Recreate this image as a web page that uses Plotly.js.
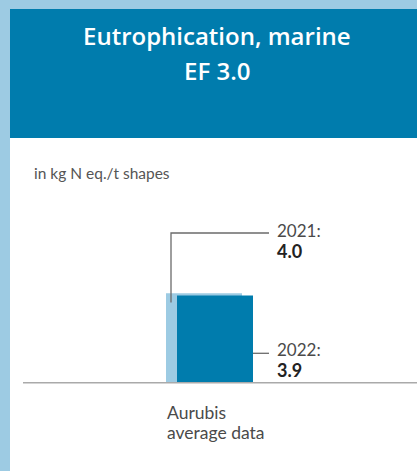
<!DOCTYPE html>
<html><head><meta charset="utf-8">
<script src="https://cdn.plot.ly/plotly-3.0.1.min.js"></script>
<style>html,body{margin:0;padding:0;background:#fff;}#chart{width:417px;height:471px;}
svg text{font-feature-settings:"liga" 0, "clig" 0; font-variant-ligatures:none;}</style>
</head><body><div id="chart"></div>
<script>
// Data
const category = "Aurubis<br>average data";
const years = ["2021", "2022"];
const values = [4.0, 3.9];
const titleText = "Eutrophication, marine<br>EF 3.0";
const unitText = "in kg N eq./t shapes";

const W = 417, H = 471;
const px = x => x / W;
const py = y => 1 - y / H;

const lightBlue = "#9dcbe3", darkBlue = "#007cad";
const FONT = "Lato, 'Open Sans', sans-serif";
const TFONT = "'Open Sans', Lato, sans-serif";

// Bars: x axis in units of bar width (76px), centre of category at 209.5px
const unit = 76, centre = 209.5;
const traces = [
  {type: "bar", x: [category], y: [values[0]], width: [1], offset: [(166 - centre) / unit],
   marker: {color: lightBlue}, hoverinfo: "skip", name: years[0]},
  {type: "bar", x: [category], y: [values[1]], width: [1], offset: [(177 - centre) / unit],
   marker: {color: darkBlue}, hoverinfo: "skip", name: years[1]}
];

const baseY = 382.5, perUnit = 22.3;
const titleLines = titleText.split("<br>");
const catLines = category.split("<br>");
const txt = (text, x, y, size, color, anchor) => ({
  text, xref: "paper", yref: "paper", x: px(x), y: py(y), xanchor: anchor || "left", yanchor: "middle",
  showarrow: false, font: {family: FONT, size, color}
});
const ttl = (text, y) => ({
  text, xref: "paper", yref: "paper", x: px(217), y: py(y), xanchor: "center", yanchor: "middle",
  showarrow: false, font: {family: TFONT, size: 24, color: "#ffffff", weight: 600}
});
const layout = {
  width: W, height: H,
  margin: {l: 0, r: 0, t: 0, b: 0, pad: 0},
  paper_bgcolor: "#fff", plot_bgcolor: "rgba(0,0,0,0)",
  showlegend: false, barmode: "overlay",
  xaxis: {type: "category", range: [-centre / unit, (W - centre) / unit], visible: false, fixedrange: true},
  yaxis: {range: [-(H - baseY) / perUnit, baseY / perUnit], visible: false, fixedrange: true},
  shapes: [
    {type: "rect", xref: "paper", yref: "paper", x0: 0, x1: px(10), y0: 0, y1: 1, fillcolor: lightBlue, line: {width: 0}, layer: "below"},
    {type: "rect", xref: "paper", yref: "paper", x0: 0, x1: 1, y0: py(9), y1: 1, fillcolor: lightBlue, line: {width: 0}, layer: "below"},
    {type: "rect", xref: "paper", yref: "paper", x0: px(10), x1: 1, y0: py(138), y1: py(9), fillcolor: darkBlue, line: {width: 0}, layer: "below"},
    {type: "line", xref: "paper", yref: "paper", x0: px(23), x1: 1, y0: py(382.7), y1: py(382.7), line: {color: "#aaaaaa", width: 1.5}, layer: "above"},
    {type: "path", xref: "paper", yref: "paper",
     path: `M ${px(171)} ${py(302.5)} L ${px(171)} ${py(233)} L ${px(269)} ${py(233)}`,
     line: {color: "#6b6b6b", width: 1.3}, layer: "above"},
    {type: "line", xref: "paper", yref: "paper", x0: px(253), x1: px(269), y0: py(353.3), y1: py(353.3),
     line: {color: "#6b6b6b", width: 1.3}, layer: "above"}
  ],
  annotations: [
    ttl(titleLines[0], 36),
    ttl(titleLines[1], 71),
    txt(unitText, 32, 173, 15.5, "#555555"),
    txt(years[0] + ":", 275, 230, 17, "#4a4a4a"),
    txt("<b>" + values[0].toFixed(1) + "</b>", 275, 251, 18, "#222222"),
    txt(years[1] + ":", 275, 349, 17, "#4a4a4a"),
    txt("<b>" + values[1].toFixed(1) + "</b>", 275, 369.5, 18, "#222222"),
    txt(catLines[0], 165, 412, 17.5, "#4a4a4a"),
    txt(catLines[1], 165, 432, 17.5, "#4a4a4a")
  ]
};

Plotly.newPlot("chart", traces, layout, {displayModeBar: false, staticPlot: true});
</script>
</body></html>
